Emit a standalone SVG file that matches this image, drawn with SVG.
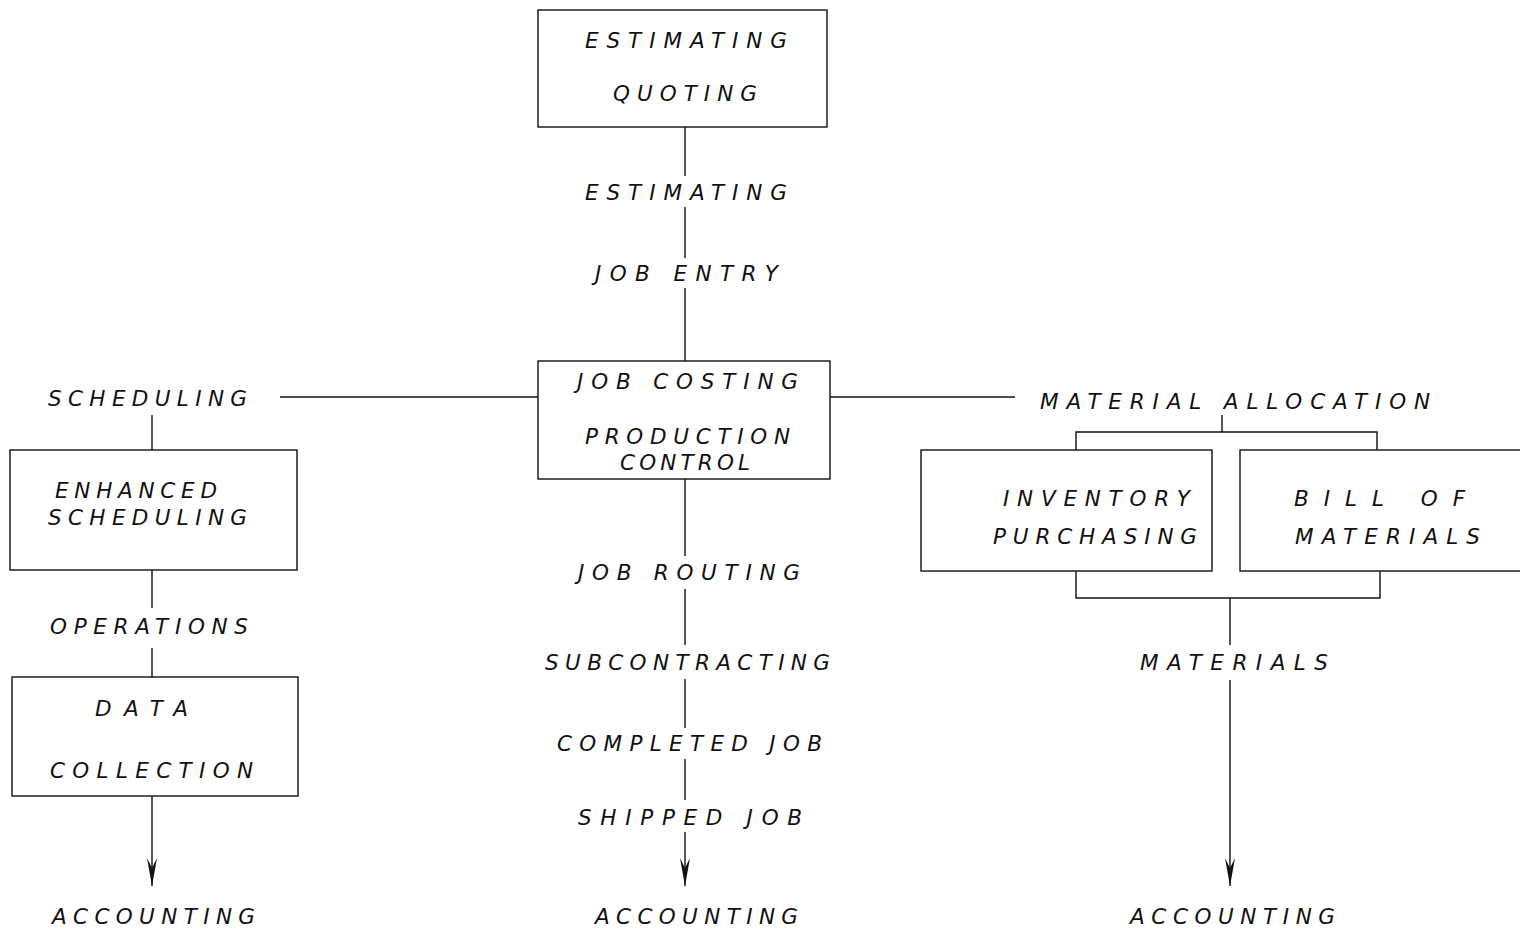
<svg xmlns="http://www.w3.org/2000/svg" width="1520" height="930" viewBox="0 0 1520 930">
<style>
.b{fill:#fff;stroke:#111;stroke-width:1.4}
.l{stroke:#111;stroke-width:1.4;fill:none}
text{font-family:"DejaVu Sans","Liberation Sans",Arial,sans-serif;font-style:italic;font-size:21.5px;fill:#111}
</style>
<defs>
<marker id="ah" markerUnits="userSpaceOnUse" markerWidth="14" markerHeight="30" refX="6" refY="28" orient="0" viewBox="0 0 12 30">
<path d="M1,0 L6,28 L11,0 L6,10 Z" fill="#111"/>
</marker>
</defs>
<rect width="1520" height="930" fill="#fff"/>
<g id="connectors">
<path class="l" d="M685,127 V176 M685,207 V258 M685,288 V361"/>
<path class="l" d="M280,397 H538 M830,397 H1015"/>
<path class="l" d="M152,415 V450 M152,570 V608 M152,648 V677"/>
<path class="l" d="M152,796 V886" marker-end="url(#ah)"/>
<path class="l" d="M685,479 V556 M685,589 V645 M685,679 V728 M685,759 V800"/>
<path class="l" d="M685,832 V886" marker-end="url(#ah)"/>
<path class="l" d="M1222,415 V432 M1076,450 V432 H1377 V450"/>
<path class="l" d="M1076,571 V598 H1380 V571 M1230,598 V645"/>
<path class="l" d="M1230,680 V886" marker-end="url(#ah)"/>
</g>
<g id="estimating-quoting">
<rect class="b" x="538" y="10" width="289" height="117"/>
<text x="585" y="48" textLength="202" lengthAdjust="spacing">ESTIMATING</text>
<text x="613" y="101" textLength="144" lengthAdjust="spacing">QUOTING</text>
</g>
<g id="label-estimating"><text x="585" y="200" textLength="202" lengthAdjust="spacing">ESTIMATING</text></g>
<g id="label-job-entry"><text x="595" y="281" textLength="183" lengthAdjust="spacing">JOB ENTRY</text></g>
<g id="job-costing">
<rect class="b" x="538" y="361" width="292" height="118"/>
<text x="577" y="389" textLength="221" lengthAdjust="spacing">JOB COSTING</text>
<text x="585" y="444" textLength="205" lengthAdjust="spacing">PRODUCTION</text>
<text x="620" y="470" textLength="130" lengthAdjust="spacing">CONTROL</text>
</g>
<g id="label-scheduling"><text x="48" y="406" textLength="199" lengthAdjust="spacing">SCHEDULING</text></g>
<g id="label-material-allocation"><text x="1040" y="409" textLength="390" lengthAdjust="spacing">MATERIAL ALLOCATION</text></g>
<g id="enhanced-scheduling">
<rect class="b" x="10" y="450" width="287" height="120"/>
<text x="55" y="498" textLength="162" lengthAdjust="spacing">ENHANCED</text>
<text x="48" y="525" textLength="199" lengthAdjust="spacing">SCHEDULING</text>
</g>
<g id="label-operations"><text x="50" y="634" textLength="198" lengthAdjust="spacing">OPERATIONS</text></g>
<g id="data-collection">
<rect class="b" x="12" y="677" width="286" height="119"/>
<text x="95" y="716" textLength="93" lengthAdjust="spacing">DATA</text>
<text x="50" y="778" textLength="203" lengthAdjust="spacing">COLLECTION</text>
</g>
<g id="inventory-purchasing">
<rect class="b" x="921" y="450" width="291" height="121"/>
<text x="1003" y="506" textLength="187" lengthAdjust="spacing">INVENTORY</text>
<text x="993" y="544" textLength="204" lengthAdjust="spacing">PURCHASING</text>
</g>
<g id="bill-of-materials">
<rect class="b" x="1240" y="450" width="290" height="121"/>
<text x="1294" y="506" textLength="171" lengthAdjust="spacing">BILL OF</text>
<text x="1295" y="544" textLength="185" lengthAdjust="spacing">MATERIALS</text>
</g>
<g id="label-job-routing"><text x="578" y="580" textLength="222" lengthAdjust="spacing">JOB ROUTING</text></g>
<g id="label-subcontracting"><text x="545" y="670" textLength="285" lengthAdjust="spacing">SUBCONTRACTING</text></g>
<g id="label-completed-job"><text x="557" y="751" textLength="265" lengthAdjust="spacing">COMPLETED JOB</text></g>
<g id="label-shipped-job"><text x="578" y="825" textLength="224" lengthAdjust="spacing">SHIPPED JOB</text></g>
<g id="label-materials"><text x="1140" y="670" textLength="188" lengthAdjust="spacing">MATERIALS</text></g>
<g id="accounting-left"><text x="52" y="924" textLength="203" lengthAdjust="spacing">ACCOUNTING</text></g>
<g id="accounting-mid"><text x="595" y="924" textLength="203" lengthAdjust="spacing">ACCOUNTING</text></g>
<g id="accounting-right"><text x="1130" y="924" textLength="205" lengthAdjust="spacing">ACCOUNTING</text></g>
</svg>
